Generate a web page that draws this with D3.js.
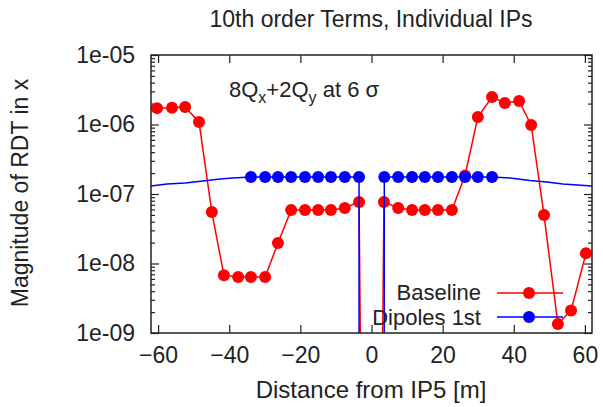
<!DOCTYPE html>
<html><head><meta charset="utf-8">
<script src="https://cdn.jsdelivr.net/npm/d3@7"></script>
<style>
html,body{margin:0;padding:0;background:#fff;}
text{font-family:"Liberation Sans",Arial,sans-serif;fill:#222;}
</style></head>
<body><svg id="c" width="603" height="407"></svg>
<script>
// ---- data ----
const xTicks = [-60, -40, -20, 0, 20, 40, 60];
const yTickValues = [1e-9, 1e-8, 1e-7, 1e-6, 1e-5];
const yTickLabels = ["1e-09", "1e-08", "1e-07", "1e-06", "1e-05"];

// Baseline (red): values below 1e-9 run off the bottom of the plot
const baselineX = [-60.3, -56.1, -52.4, -48.5, -44.9, -41.5, -37.5, -33.9, -29.9, -26.3, -22.6, -18.7, -15.0, -11.4, -7.5, -3.5,
                   -2.6, 2.6,
                   3.5, 7.5, 11.4, 15.0, 18.7, 22.6, 26.3, 29.9, 33.9, 37.5, 41.5, 44.9, 48.5, 52.4, 56.1, 60.3];
const baselineV = [1.72e-6, 1.74e-6, 1.78e-6, 1.09e-6, 5.5e-8, 6.8e-9, 6.4e-9, 6.4e-9, 6.4e-9, 1.97e-8, 5.9e-8, 5.9e-8, 5.9e-8, 5.9e-8, 6.3e-8, 7.7e-8,
                   1e-12, 1e-12,
                   7.7e-8, 6.3e-8, 5.9e-8, 5.9e-8, 5.9e-8, 5.9e-8, 1.85e-7, 1.28e-6, 2.49e-6, 2.04e-6, 2.18e-6, 9.8e-7, 5.0e-8, 1.35e-9, 2.1e-9, 1.4e-8];

// Dipoles 1st (blue) line
const dipoleLineX = [-62, -57.5, -52.4, -47.4, -42.6, -39.0, -33.9, -3.5, -3.5, 3.6, 3.6, 33.9, 39.0, 44.5, 49.3, 53.8, 62];
const dipoleLineV = [1.30e-7, 1.39e-7, 1.44e-7, 1.54e-7, 1.64e-7, 1.70e-7, 1.76e-7, 1.76e-7, 1e-14, 1e-14, 1.76e-7, 1.76e-7, 1.70e-7, 1.56e-7, 1.49e-7, 1.39e-7, 1.30e-7];
// Dipoles 1st (blue) markers
const dipolePointX = [-33.9, -29.9, -26.3, -22.6, -18.7, -15.0, -11.4, -7.5, -3.5,
                      3.6, 7.5, 11.4, 15.0, 18.7, 22.6, 26.3, 29.9, 33.9];
const dipolePointV = [1.76e-7, 1.76e-7, 1.76e-7, 1.76e-7, 1.76e-7, 1.76e-7, 1.76e-7, 1.76e-7, 1.76e-7,
                      1.76e-7, 1.76e-7, 1.76e-7, 1.76e-7, 1.76e-7, 1.76e-7, 1.76e-7, 1.76e-7, 1.76e-7];

const seriesNames = ["Baseline", "Dipoles 1st"];
const seriesColors = ["#ff0000", "#0000ff"];

// ---- layout ----
const L = 151, R = 592, T = 55, B = 333;
const svg = d3.select("#c");
const x = d3.scaleLinear().domain([-62, 62]).range([L, R]);
const y = d3.scaleLog().domain([1e-9, 1e-5]).range([B, T]);

svg.append("defs").append("clipPath").attr("id", "clip")
  .append("rect").attr("x", L).attr("y", T).attr("width", R - L).attr("height", B - T);

const FS = 23;

// title
svg.append("text").attr("x", 371).attr("y", 27).attr("text-anchor", "middle")
  .style("font-size", FS + "px").text("10th order Terms, Individual IPs");

// minor ticks for log axis
const minor = [];
for (let e = -9; e < -5; e++) for (let k = 2; k <= 9; k++) minor.push(k * Math.pow(10, e));

function styleAxis(g) {
  g.select(".domain").remove();
  g.selectAll(".tick line").attr("stroke", "#222").attr("stroke-width", 1.2);
  g.selectAll(".tick text").style("font-size", FS + "px").attr("fill", "#222");
}

svg.append("g").attr("transform", `translate(0,${B})`)
  .call(d3.axisBottom(x).tickValues(xTicks).tickSize(-8).tickPadding(14).tickFormat(d3.format("d")))
  .call(styleAxis);
svg.append("g").attr("transform", `translate(0,${T})`)
  .call(d3.axisTop(x).tickValues(xTicks).tickSize(-8).tickFormat(""))
  .call(styleAxis);
svg.append("g").attr("transform", `translate(${L},0)`)
  .call(d3.axisLeft(y).tickValues(yTickValues).tickSize(-8).tickPadding(16)
    .tickFormat((d, i) => yTickLabels[i]))
  .call(styleAxis);
svg.append("g").attr("transform", `translate(${L},0)`)
  .call(d3.axisLeft(y).tickValues(minor).tickSize(-4).tickFormat(""))
  .call(styleAxis);
svg.append("g").attr("transform", `translate(${R},0)`)
  .call(d3.axisRight(y).tickValues(yTickValues).tickSize(-8).tickFormat(""))
  .call(styleAxis);
svg.append("g").attr("transform", `translate(${R},0)`)
  .call(d3.axisRight(y).tickValues(minor).tickSize(-4).tickFormat(""))
  .call(styleAxis);

// axis labels
svg.append("text").attr("x", 371).attr("y", 398).attr("text-anchor", "middle")
  .style("font-size", "24px").text("Distance from IP5 [m]");
svg.append("text").attr("transform", "translate(28,193) rotate(-90)").attr("text-anchor", "middle")
  .style("font-size", FS + "px").text("Magnitude of RDT in x");

// annotation
const ann = svg.append("text").attr("x", 229).attr("y", 97).style("font-size", "22px");
ann.append("tspan").text("8Q");
ann.append("tspan").attr("dy", 6).style("font-size", "16px").text("x");
ann.append("tspan").attr("dy", -6).text("+2Q");
ann.append("tspan").attr("dy", 6).style("font-size", "16px").text("y");
ann.append("tspan").attr("dy", -6).text(" at 6 σ");

// data
const plot = svg.append("g").attr("clip-path", "url(#clip)");
const line = d3.line().x(d => x(d[0])).y(d => y(d[1]));

const base = baselineX.map((v, i) => [v, baselineV[i]]);
plot.append("path").datum(base).attr("d", line).attr("fill", "none")
  .attr("stroke", seriesColors[0]).attr("stroke-width", 1.5);
plot.selectAll(".bp").data(base.filter(d => d[1] >= 1e-9)).enter().append("circle")
  .attr("cx", d => x(d[0])).attr("cy", d => y(d[1])).attr("r", 6).attr("fill", seriesColors[0]);

const dl = dipoleLineX.map((v, i) => [v, dipoleLineV[i]]);
plot.append("path").datum(dl).attr("d", line).attr("fill", "none")
  .attr("stroke", seriesColors[1]).attr("stroke-width", 1.5);
const dp = dipolePointX.map((v, i) => [v, dipolePointV[i]]);
plot.selectAll(".dp").data(dp).enter().append("circle")
  .attr("cx", d => x(d[0])).attr("cy", d => y(d[1])).attr("r", 6).attr("fill", seriesColors[1]);

// frame
svg.append("rect").attr("x", L).attr("y", T).attr("width", R - L).attr("height", B - T)
  .attr("fill", "none").attr("stroke", "#222").attr("stroke-width", 1.5);

// legend
const legY = [293, 317];
const legText = [299.5, 324.5];
seriesNames.forEach((name, i) => {
  const g = svg.append("g");
  g.append("text").attr("x", 481).attr("y", legText[i]).attr("text-anchor", "end")
    .style("font-size", "22px").text(name);
  g.append("line").attr("x1", 497).attr("x2", 563).attr("y1", legY[i]).attr("y2", legY[i])
    .attr("stroke", seriesColors[i]).attr("stroke-width", 1.5);
  g.append("circle").attr("cx", 529).attr("cy", legY[i]).attr("r", 6).attr("fill", seriesColors[i]);
});
</script></body></html>
